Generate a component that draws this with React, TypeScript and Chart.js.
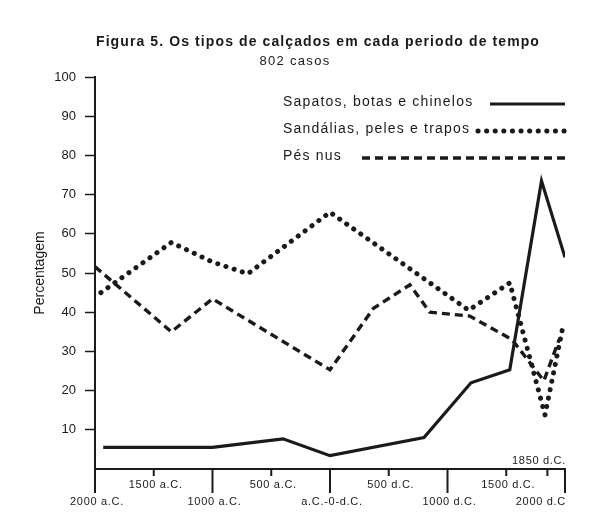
import React, { useEffect, useRef } from 'react';
import { Chart, registerables } from 'chart.js';

Chart.register(...registerables);

const W = 610;
const H = 529;
const INK = '#1a1a1a';
const FONT = '"Liberation Sans", Arial, sans-serif';

// Data (years: negative = a.C., positive = d.C.; values in %)
const sapatosYears = [-1930, -1000, -400, 0, 800, 1200, 1530, 1800, 2000];
const sapatosValues = [5.5, 5.5, 7.7, 3.4, 8, 22, 25.3, 73.5, 54];

const sandaliasYears = [-1950, -1350, -1000, -700, 0, 1180, 1530, 1830, 1980];
const sandaliasValues = [45, 57.8, 52.8, 49.8, 65.5, 40.5, 47.5, 13.8, 36];

const pesYears = [-2000, -1350, -1000, 0, 370, 680, 850, 1190, 1550, 1820, 1950];
const pesValues = [51.6, 35, 43.4, 25.3, 41, 47, 40, 39, 33, 22.5, 33];

const seriesNames = ['Sapatos, botas e chinelos', 'Sandálias, peles e trapos', 'Pés nus'];

const yTicks = [10, 20, 30, 40, 50, 60, 70, 80, 90, 100];

const xTickValues = [-2000, -1500, -1000, -500, 0, 500, 1000, 1500, 1850, 2000];
const xTickLabels = ['2000 a.C.', '1500 a.C.', '1000 a.C.', '500 a.C.', 'a.C.-0-d.C.', '500 d.C.', '1000 d.C.', '1500 d.C.', '1850 d.C.', '2000 d.C'];
const xTickMajor = [true, false, true, false, true, false, true, false, false, true];

const titleText = 'Figura 5. Os tipos de calçados em cada periodo de tempo';
const subtitleText = '802 casos';
const yTitle = 'Percentagem';

const toPoints = (xs: number[], ys: number[]) => xs.map((x, i) => ({ x, y: ys[i] }));

const lineStyles = [
  { dash: [] as number[], width: 3.2, cap: 'butt' as CanvasLineCap },
  { dash: [0.1, 8.5], width: 5, cap: 'round' as CanvasLineCap },
  { dash: [8, 5], width: 3.4, cap: 'butt' as CanvasLineCap },
];

const decorPlugin = {
  id: 'decor',
  afterDraw(chart: any) {
    const { ctx, chartArea } = chart;
    const xs = chart.scales.x;
    const yB = chartArea.bottom;
    ctx.save();
    // x axis line and ticks
    ctx.strokeStyle = INK;
    ctx.lineWidth = 2;
    ctx.setLineDash([]);
    ctx.beginPath();
    ctx.moveTo(chartArea.left - 1, yB);
    ctx.lineTo(chartArea.right + 1, yB);
    ctx.stroke();
    xTickValues.forEach((v, i) => {
      const px = xs.getPixelForValue(v);
      ctx.beginPath();
      ctx.moveTo(px, yB);
      ctx.lineTo(px, yB + (xTickMajor[i] ? 24 : 7));
      ctx.stroke();
    });
    // x labels
    ctx.fillStyle = INK;
    ctx.font = `11px ${FONT}`;
    (ctx as any).letterSpacing = '0.7px';
    ctx.textBaseline = 'middle';
    xTickValues.forEach((v, i) => {
      const px = xs.getPixelForValue(v);
      const label = xTickLabels[i];
      if (v === 1850) {
        ctx.textAlign = 'right';
        ctx.fillText(label, chartArea.right + 1, yB - 8);
      } else if (v === 2000) {
        ctx.textAlign = 'right';
        ctx.fillText(label, chartArea.right + 1, yB + 33);
      } else {
        ctx.textAlign = 'center';
        ctx.fillText(label, px + 2, xTickMajor[i] ? yB + 33 : yB + 16);
      }
    });
    // Titles
    ctx.textAlign = 'center';
    ctx.font = `bold 14px ${FONT}`;
    (ctx as any).letterSpacing = '1.1px';
    ctx.fillText(titleText, 318, 42);
    ctx.font = `13px ${FONT}`;
    (ctx as any).letterSpacing = '1.3px';
    ctx.fillText(subtitleText, 295, 61);
    // Legend
    const rowsY = [103, 130, 157];
    const sampleStart = [490, 478, 362];
    ctx.font = `14px ${FONT}`;
    (ctx as any).letterSpacing = '1.2px';
    ctx.textAlign = 'left';
    seriesNames.forEach((name, i) => {
      ctx.fillStyle = INK;
      ctx.fillText(name, 283, rowsY[i] - 1);
      const st = lineStyles[i];
      ctx.strokeStyle = INK;
      ctx.lineWidth = st.width;
      ctx.lineCap = st.cap;
      ctx.setLineDash(st.dash);
      ctx.beginPath();
      ctx.moveTo(sampleStart[i], rowsY[i] + 1);
      ctx.lineTo(chartArea.right, rowsY[i] + 1);
      ctx.stroke();
    });
    ctx.restore();
  },
};

export default function App() {
  const ref = useRef<HTMLCanvasElement>(null);
  useEffect(() => {
    const canvas = ref.current;
    if (!canvas) return;
    const series = [
      toPoints(sapatosYears, sapatosValues),
      toPoints(sandaliasYears, sandaliasValues),
      toPoints(pesYears, pesValues),
    ];
    const chart = new Chart(canvas, {
      type: 'line',
      data: {
        datasets: series.map((pts, i) => ({
          label: seriesNames[i],
          data: pts,
          borderColor: INK,
          borderWidth: lineStyles[i].width,
          borderDash: lineStyles[i].dash,
          borderCapStyle: lineStyles[i].cap,
          borderJoinStyle: 'miter' as CanvasLineJoin,
          pointRadius: 0,
          tension: 0,
          fill: false,
        })),
      },
      options: {
        animation: false,
        responsive: false,
        devicePixelRatio: 1,
        layout: { padding: { left: 8, top: 77, right: 45, bottom: 60 } },
        plugins: {
          legend: { display: false },
          title: { display: false },
          tooltip: { enabled: false },
        },
        scales: {
          x: {
            type: 'linear',
            display: false,
            min: -2000,
            max: 2000,
          },
          y: {
            type: 'linear',
            min: 0,
            max: 100,
            afterFit: (scale: any) => {
              scale.width = 87;
            },
            afterBuildTicks: (scale: any) => {
              scale.ticks = [{ value: 0 }, ...yTicks.map((v) => ({ value: v }))];
            },
            ticks: {
              color: INK,
              font: { family: FONT, size: 13 },
              padding: 9,
              callback: (v: any) => (v === 0 ? '' : String(v)),
            },
            grid: {
              drawOnChartArea: false,
              drawTicks: true,
              tickLength: 10,
              tickWidth: 1.5,
              tickColor: (c: any) => (c.tick && c.tick.value === 0 ? 'rgba(0,0,0,0)' : INK),
            },
            border: { display: true, color: INK, width: 2 },
            title: {
              display: true,
              text: yTitle,
              color: INK,
              font: { family: FONT, size: 14 },
              padding: { top: 24, bottom: 0 },
            },
          },
        },
      },
      plugins: [decorPlugin],
    });
    return () => chart.destroy();
  }, []);
  return (
    <div style={{ position: 'fixed', left: 0, top: 0, width: W, height: H, background: '#ffffff' }}>
      <canvas ref={ref} width={W} height={H} style={{ display: 'block', width: W, height: H }} />
    </div>
  );
}
